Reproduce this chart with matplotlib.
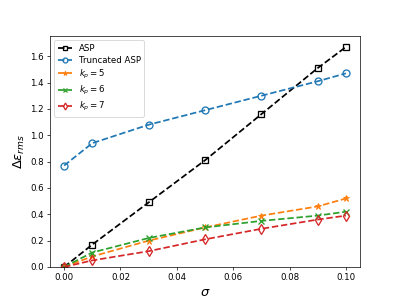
import numpy as np
import matplotlib
matplotlib.use("Agg")
import matplotlib.pyplot as plt

sigma = [0.0, 0.01, 0.03, 0.05, 0.07, 0.09, 0.10]
asp = [0.0, 0.17, 0.49, 0.81, 1.16, 1.51, 1.67]
trunc_asp = [0.77, 0.94, 1.08, 1.19, 1.30, 1.41, 1.47]
kp5 = [0.0, 0.08, 0.20, 0.30, 0.39, 0.46, 0.52]
kp6 = [0.0, 0.11, 0.22, 0.30, 0.35, 0.39, 0.42]
kp7 = [0.0, 0.05, 0.12, 0.21, 0.29, 0.36, 0.39]

fig, ax = plt.subplots(figsize=(6.4, 4.8), dpi=62.5)

lw = 2.0
ms = 8
ax.plot(sigma, asp, 'k--s', lw=lw, ms=ms, mfc='none', mew=1.5, label='ASP')
ax.plot(sigma, trunc_asp, '--o', color='tab:blue', lw=lw, ms=ms, mfc='none', mew=1.5, label='Truncated ASP')
ax.plot(sigma, kp5, '--*', color='tab:orange', lw=lw, ms=ms, label='$k_p = 5$')
ax.plot(sigma, kp6, '--x', color='tab:green', lw=lw, ms=ms, mew=1.5, label='$k_p = 6$')
ax.plot(sigma, kp7, '--d', color='tab:red', lw=lw, ms=ms, mfc='none', mew=1.5, label='$k_p = 7$')

ax.set_ylim(bottom=0)
ax.set_xlabel(r'$\sigma$', fontsize=15)
ax.set_ylabel(r'$\Delta\epsilon_{rms}$', fontsize=15)
ax.legend(loc='upper left', handlelength=1.6, labelspacing=0.35, markerscale=0.7)

fig.savefig('out.png')
